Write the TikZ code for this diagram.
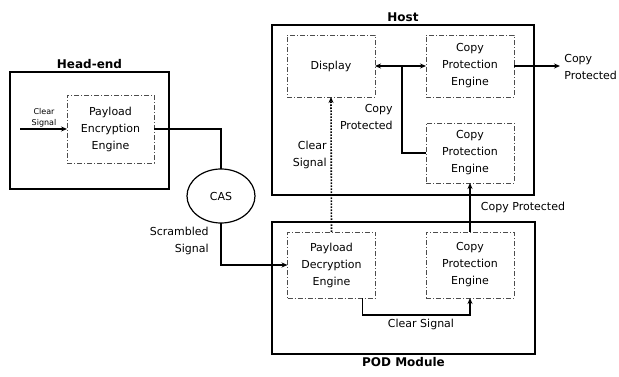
\documentclass[tikz,border=0pt]{standalone}
\usepackage{fontspec}
\setmainfont{DejaVu Sans}
\usetikzlibrary{arrows.meta,shapes.geometric}

\begin{document}
\begin{tikzpicture}[
    x=1pt, y=-1pt,
    font=\fontsize{11}{17}\selectfont,
    outer sep=0pt,
    unitbox/.style={draw, line width=1.6pt, inner sep=0pt},
    enginebox/.style={draw=black!70, line width=0.6pt,
      dash pattern=on 5pt off 2pt on 1pt off 2pt,
      minimum width=88, minimum height=64, inner sep=0pt, align=center},
    title/.style={font=\fontsize{12}{14}\selectfont\bfseries},
    lbl/.style={align=center},
    wire/.style={line width=1.2pt},
    flow/.style={wire, -{Stealth[length=6pt,width=5pt]}}
  ]
  \useasboundingbox (0,0) rectangle (619,377);

  % головная станция
  \node[unitbox, minimum width=159, minimum height=117] (headend) at (89.5,130.5) {};
  \node[title, above] at (headend.north) {Head-end};
  \node[enginebox, minimum width=87, minimum height=68] (pee) at (110.5,129)
    {Payload\\Encryption\\Engine};
  \coordinate (clearin) at (20,129);
  \node[lbl, font=\fontsize{8}{11}\selectfont] at (44,118) {Clear\\Signal};

  % система условного доступа
  \node[draw, ellipse, line width=1.2pt, minimum width=68, minimum height=54] (cas)
    at (221,196) {CAS};
  \node[lbl, align=right, anchor=east] at (212,241) {Scrambled\\Signal};

  % хост
  \node[unitbox, minimum width=262, minimum height=170] (host) at (403,110) {};
  \node[title, above] at (host.north) {Host};
  \node[enginebox, minimum height=62] (display) at (331,66) {Display};
  \node[enginebox, minimum height=62] (cpeA) at (470,66) {Copy\\Protection\\Engine};
  \node[enginebox, minimum height=60] (cpeB) at (470,153) {Copy\\Protection\\Engine};
  \coordinate (junc) at (402,66);
  \coordinate (out) at (560,66);

  % модуль POD
  \node[unitbox, minimum width=263, minimum height=132] (pod) at (403.5,288) {};
  \node[title, below] at (pod.south) {POD Module};
  \node[enginebox, minimum height=66] (pde) at (331.5,265) {Payload\\Decryption\\Engine};
  \node[enginebox, minimum height=66] (cpeC) at (470,265) {Copy\\Protection\\Engine};

  % соединения
  \draw[flow] (clearin) -- (pee.west);
  \draw[wire] (pee.east) -- (pee.east -| cas.north) -- (cas.north);
  \draw[flow] (cas.south) |- (pde.west);
  \draw[flow] ([xshift=31pt]pde.south) -- ++(0,17) coordinate (bend) -| (cpeC.south);
  \draw[flow] (cpeC.north) -- (cpeB.south);
  \draw[wire] (cpeB.west) -| (junc);
  \draw[flow] (junc) -- (display.east);
  \draw[flow] (junc) -- (cpeA.west);
  \draw[flow] (cpeA.east) -- (out);
  \draw[flow, line width=1.6pt, dash pattern=on 1.6pt off 1.4pt] (pde.north) -- (display.south);

  % подписи
  \node[lbl] at (421,324) {Clear Signal};
  \node[lbl] at (523,207) {Copy Protected};
  \node[lbl, align=right, anchor=east] at (396,117) {Copy\\Protected};
  \node[lbl, align=right, anchor=east] at (330,155) {Clear\\Signal};
  \node[lbl, align=left, anchor=west] at (561,67) {Copy\\Protected};
\end{tikzpicture}
\end{document}
